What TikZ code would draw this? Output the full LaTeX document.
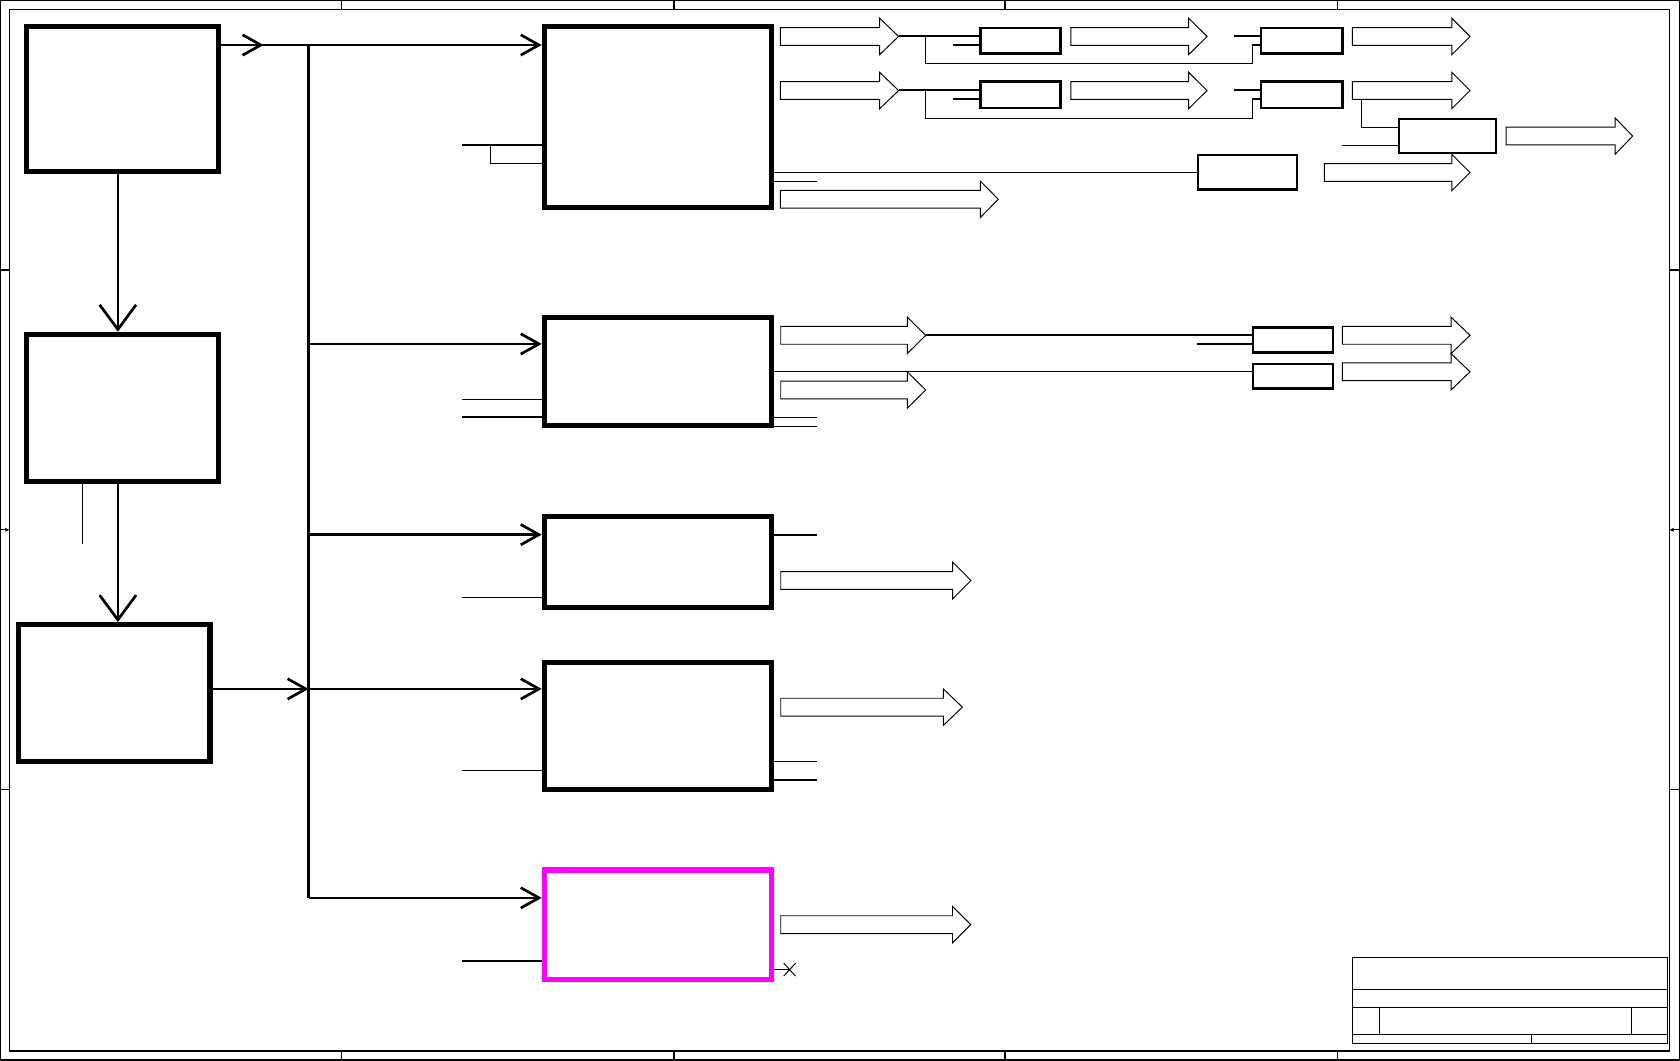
\documentclass[tikz,border=0pt]{standalone}
\usetikzlibrary{arrows.meta,calc}
\tikzset{
  bigbox/.style={draw, line width=4.8pt, fill=white, inner sep=0pt, rectangle},
  smallbox/.style={draw, line width=2.3pt, fill=white, inner sep=0pt, rectangle},
  conn/.style={line width=2.5pt},
  thin/.style={line width=1.1pt},
  frameline/.style={line width=1.1pt},
  fatarrow/.style={draw, line width=0.9pt, fill=white, line join=miter},
  barbtip/.tip={Straight Barb[length=17pt,width=19pt]},
  bigbarb/.tip={Straight Barb[length=23pt,width=34pt]}
}
\newcommand\fatarr[4]{% left, head base, tip, centre y
  \path[fatarrow] (#1,#4-8.3) -- (#2,#4-8.3) -- (#2,#4-17) -- (#3,#4) -- (#2,#4+17) -- (#2,#4+8.3) -- (#1,#4+8.3) -- cycle;}
\begin{document}
\begin{tikzpicture}[x=1pt,y=-1pt]
\useasboundingbox (0,0) rectangle (1568,990);
\fill[white] (0,0) rectangle (1568,990);
% frame
\draw[frameline] (0.6,0.6) rectangle (1567.4,989.4);
\draw[frameline] (9,9) rectangle (1558,981);
\foreach \x in {319,629,938,1248}{
  \draw[frameline] (\x,0.6) -- (\x,9);
  \draw[frameline] (\x,981) -- (\x,989.4);}
\foreach \y in {252,737}{
  \draw[frameline] (0.6,\y) -- (9,\y);
  \draw[frameline] (1558,\y) -- (1567.4,\y);}
\draw[frameline,-{Latex[length=4pt,width=4pt]}] (0.6,494.5) -- (9,494.5);
\draw[frameline,-{Latex[length=4pt,width=4pt]}] (1567.4,494.5) -- (1558,494.5);
% title block
\draw[frameline] (1262,893.5) rectangle (1556,974);
\draw[frameline] (1262,923.4) -- (1556,923.4);
\draw[frameline] (1262,940.2) -- (1556,940.2);
\draw[frameline] (1262,965.4) -- (1556,965.4);
\draw[frameline] (1287.4,940.2) -- (1287.4,965.4);
\draw[frameline] (1523,940.2) -- (1523,965.4);
\draw[frameline] (1429.6,965.4) -- (1429.6,974);

% fat arrows
\fatarr{728.4}{821}{838.7}{34}
\fatarr{999.4}{1109.4}{1126.6}{34}
\fatarr{1262.2}{1355}{1372}{34}
\fatarr{728.4}{821}{838.7}{84.5}
\fatarr{999.4}{1109.4}{1126.6}{84.5}
\fatarr{1262.2}{1355}{1372}{84.5}
\fatarr{1405.6}{1507.4}{1523.8}{127}
\fatarr{1236}{1355}{1372}{161}
\fatarr{728.4}{915}{931.7}{186}
\fatarr{728.7}{846.8}{864}{313}
\fatarr{728.7}{846.8}{864}{364}
\fatarr{1252.8}{1354.3}{1372}{313}
\fatarr{1252.8}{1354.3}{1372}{347}
\fatarr{728.7}{889.2}{906.3}{541.8}
\fatarr{728.7}{880.5}{898.2}{660}
\fatarr{728.7}{889}{906}{863}

% big boxes
\node[bigbox, minimum width=179pt, minimum height=135pt] (A) at (114.5,92.5) {};
\node[bigbox, minimum width=179pt, minimum height=137pt] (B) at (114.5,380.5) {};
\node[bigbox, minimum width=179pt, minimum height=128pt] (C) at (106.5,647) {};
\node[bigbox, minimum width=212pt, minimum height=169pt] (D1) at (614,109.5) {};
\node[bigbox, minimum width=212pt, minimum height=101pt] (D2) at (614,347) {};
\node[bigbox, minimum width=212pt, minimum height=85pt] (D3) at (614,524.5) {};
\node[bigbox, minimum width=212pt, minimum height=119pt] (D4) at (614,677.5) {};
\definecolor{magbox}{RGB}{255,0,255}
\node[bigbox, draw=magbox, minimum width=212pt, minimum height=102pt] (D5) at (614,863) {};

% small boxes
\node[smallbox, minimum width=75pt, minimum height=24pt] (s11) at (952.5,38) {};
\node[smallbox, minimum width=76pt, minimum height=24pt] (s12) at (1215,38) {};
\node[smallbox, minimum width=75pt, minimum height=25pt] (s21) at (952.5,88.5) {};
\node[smallbox, minimum width=76pt, minimum height=25pt] (s22) at (1215,88.5) {};
\node[smallbox, minimum width=92.5pt, minimum height=32.5pt] (E) at (1164.25,160.75) {};
\node[smallbox, minimum width=90.5pt, minimum height=32pt] (H) at (1350.75,127) {};
\node[smallbox, minimum width=74.5pt, minimum height=23.5pt] (G1) at (1206.75,317.25) {};
\node[smallbox, minimum width=74.5pt, minimum height=23pt] (G2) at (1206.75,351) {};

% bus coordinates
\coordinate (bt) at (288,42);
\coordinate (b2) at (288,321);
\coordinate (b3) at (288,499);
\coordinate (b4) at (288,643);
\coordinate (bb) at (288,838);
\coordinate (mA) at (246,42);
\coordinate (vx) at (110,0);

% thick connectors
\draw[conn] (bt) -- (bb);
\draw[conn,-{barbtip}] (A.east|-bt) -- (D1.west|-bt);
\draw[conn,-{barbtip}] (A.east|-bt) -- (mA);
\draw[conn,-{barbtip}] (b2) -- (D2.west|-b2);
\draw[conn,-{barbtip}] (b3) -- (D3.west|-b3);
\draw[conn,-{barbtip}] (b4) -- (D4.west|-b4);
\draw[conn,-{barbtip}] (bb) -- (D5.west|-bb);
\draw[conn,-{barbtip}] (C.east|-b4) -- (b4);
\draw[conn,-{bigbarb}] (vx|-A.south) -- (vx|-B.north);
\draw[conn,-{bigbarb}] (vx|-B.south) -- (vx|-C.north);
\draw[thin] (77,451.5) -- (77,508);

% left stubs
\draw[thin] (431.5,135.3) -- (D1.west|-0,135.3);
\draw[thin] (457.7,135.3) -- (457.7,152.4) -- (D1.west|-0,152.4);
\draw[thin] (431.5,372.7) -- (D2.west|-0,372.7);
\draw[thin] (431.5,389.2) -- (D2.west|-0,389.2);
\draw[thin] (431.5,558) -- (D3.west|-0,558);
\draw[thin] (431.5,719) -- (D4.west|-0,719);
\draw[thin] (431.5,897) -- (D5.west|-0,897);

% right stubs
\draw[thin] (D1.east|-0,160.8) -- (E.west|-0,160.8);
\draw[thin] (D1.east|-0,169.2) -- (762.4,169.2);
\draw[thin] (D2.east|-0,346.9) -- (G2.west|-0,346.9);
\draw[thin] (D2.east|-0,389.5) -- (762.4,389.5);
\draw[thin] (D2.east|-0,398.2) -- (762.4,398.2);
\draw[thin] (D3.east|-0,499.3) -- (762.4,499.3);
\draw[thin] (D4.east|-0,710.9) -- (762.4,710.9);
\draw[thin] (D4.east|-0,728) -- (762.4,728);
\coordinate (xm) at (737,905);
\draw[thin] (D5.east|-xm) -- (xm);
\draw[line width=0.9pt] ($(xm)+(-5.5,-6)$) -- ($(xm)+(5.5,6)$);
\draw[line width=0.9pt] ($(xm)+(-5.5,6)$) -- ($(xm)+(5.5,-6)$);

% row 1 wiring
\draw[thin] (838.7,33.6) -- (s11.west|-0,33.6);
\draw[thin] (889,42) -- (s11.west|-0,42);
\draw[thin] (863.7,33.6) -- (863.7,59) -- (1169,59) -- (1169,42) -- (s12.west|-0,42);
\draw[thin] (1151.7,33.6) -- (s12.west|-0,33.6);
% row 2 wiring
\draw[thin] (838.7,84) -- (s21.west|-0,84);
\draw[thin] (889,92.4) -- (s21.west|-0,92.4);
\draw[thin] (863.7,84) -- (863.7,110.4) -- (1169,110.4) -- (1169,92.4) -- (s22.west|-0,92.4);
\draw[thin] (1151.7,84) -- (s22.west|-0,84);
\draw[thin] (1271,92.8) -- (1271,118.8) -- (H.west|-0,118.8);
\draw[thin] (1252.8,135.6) -- (H.west|-0,135.6);
% D2 wiring
\draw[thin] (864,312.7) -- (G1.west|-0,312.7);
\draw[thin] (1117.5,321) -- (G1.west|-0,321);

% box H drawn over the arrow head below it
\node[smallbox, minimum width=90.5pt, minimum height=32pt] at (H) {};
\end{tikzpicture}
\end{document}
